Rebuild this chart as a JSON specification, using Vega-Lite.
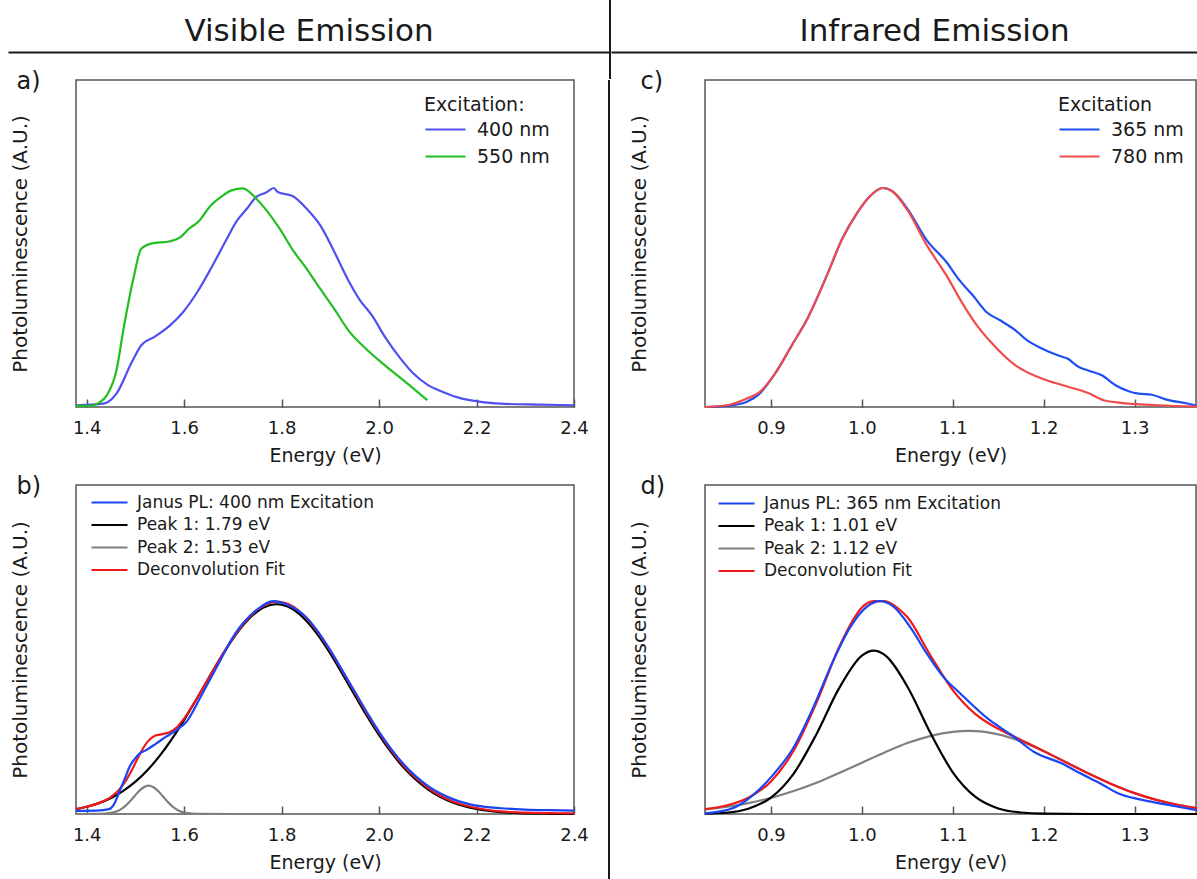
{
 "$schema": "https://vega.github.io/schema/vega-lite/v6.json",
 "padding": {"left": 8, "top": 0, "right": 0, "bottom": 0},
 "background": "white",
 "config": {
  "font": "DejaVu Sans",
  "view": {"stroke": "#555555", "strokeWidth": 1.5},
  "axis": {"grid": false, "labelColor": "#1a1a1a", "titleColor": "#1a1a1a", "titleFontWeight": "normal", "labelFont": "DejaVu Sans", "titleFont": "DejaVu Sans"},
  "legend": {"labelColor": "#1a1a1a", "titleColor": "#1a1a1a", "titleFontWeight": "normal", "labelFont": "DejaVu Sans", "titleFont": "DejaVu Sans", "padding": 0, "labelLimit": 400},
  "line": {"interpolate": "monotone", "strokeWidth": 2.2}
 },
 "datasets": {
  "a": [
   {"E":1.378,"PL":0.008,"s":"400 nm"},{"E":1.434,"PL":0.015,"s":"400 nm"},{"E":1.461,"PL":0.061,"s":"400 nm"},{"E":1.4926,"PL":0.205,"s":"400 nm"},{"E":1.512,"PL":0.282,"s":"400 nm"},{"E":1.539,"PL":0.32,"s":"400 nm"},{"E":1.571,"PL":0.373,"s":"400 nm"},{"E":1.598,"PL":0.434,"s":"400 nm"},{"E":1.627,"PL":0.525,"s":"400 nm"},{"E":1.6585,"PL":0.647,"s":"400 nm"},{"E":1.686,"PL":0.761,"s":"400 nm"},{"E":1.709,"PL":0.853,"s":"400 nm"},{"E":1.729,"PL":0.906,"s":"400 nm"},{"E":1.748,"PL":0.959,"s":"400 nm"},{"E":1.768,"PL":0.979,"s":"400 nm"},{"E":1.784,"PL":1.0,"s":"400 nm"},{"E":1.792,"PL":0.982,"s":"400 nm"},{"E":1.8235,"PL":0.962,"s":"400 nm"},{"E":1.851,"PL":0.906,"s":"400 nm"},{"E":1.879,"PL":0.83,"s":"400 nm"},{"E":1.91,"PL":0.7,"s":"400 nm"},{"E":1.937,"PL":0.578,"s":"400 nm"},{"E":1.961,"PL":0.487,"s":"400 nm"},{"E":1.985,"PL":0.419,"s":"400 nm"},{"E":2.012,"PL":0.32,"s":"400 nm"},{"E":2.044,"PL":0.221,"s":"400 nm"},{"E":2.071,"PL":0.152,"s":"400 nm"},{"E":2.099,"PL":0.102,"s":"400 nm"},{"E":2.131,"PL":0.068,"s":"400 nm"},{"E":2.17,"PL":0.038,"s":"400 nm"},{"E":2.202,"PL":0.026,"s":"400 nm"},{"E":2.249,"PL":0.015,"s":"400 nm"},{"E":2.328,"PL":0.011,"s":"400 nm"},{"E":2.4,"PL":0.008,"s":"400 nm"},
   {"E":1.378,"PL":0.005,"s":"550 nm"},{"E":1.4057,"PL":0.005,"s":"550 nm"},{"E":1.4254,"PL":0.02,"s":"550 nm"},{"E":1.4412,"PL":0.053,"s":"550 nm"},{"E":1.461,"PL":0.167,"s":"550 nm"},{"E":1.4768,"PL":0.373,"s":"550 nm"},{"E":1.4965,"PL":0.594,"s":"550 nm"},{"E":1.512,"PL":0.723,"s":"550 nm"},{"E":1.532,"PL":0.746,"s":"550 nm"},{"E":1.571,"PL":0.757,"s":"550 nm"},{"E":1.59,"PL":0.772,"s":"550 nm"},{"E":1.61,"PL":0.814,"s":"550 nm"},{"E":1.63,"PL":0.848,"s":"550 nm"},{"E":1.6536,"PL":0.918,"s":"550 nm"},{"E":1.677,"PL":0.962,"s":"550 nm"},{"E":1.697,"PL":0.989,"s":"550 nm"},{"E":1.7207,"PL":0.998,"s":"550 nm"},{"E":1.748,"PL":0.951,"s":"550 nm"},{"E":1.796,"PL":0.814,"s":"550 nm"},{"E":1.8235,"PL":0.715,"s":"550 nm"},{"E":1.851,"PL":0.632,"s":"550 nm"},{"E":1.879,"PL":0.54,"s":"550 nm"},{"E":1.91,"PL":0.441,"s":"550 nm"},{"E":1.937,"PL":0.35,"s":"550 nm"},{"E":1.973,"PL":0.266,"s":"550 nm"},{"E":2.012,"PL":0.19,"s":"550 nm"},{"E":2.059,"PL":0.106,"s":"550 nm"},{"E":2.099,"PL":0.031,"s":"550 nm"}
  ],
  "b": [
   {"E":1.378,"PL":0,"s":"Peak 2: 1.53 eV"},{"E":1.42,"PL":0.0003,"s":"Peak 2: 1.53 eV"},{"E":1.437,"PL":0.0015,"s":"Peak 2: 1.53 eV"},{"E":1.447,"PL":0.004,"s":"Peak 2: 1.53 eV"},{"E":1.457,"PL":0.009,"s":"Peak 2: 1.53 eV"},{"E":1.467,"PL":0.018,"s":"Peak 2: 1.53 eV"},{"E":1.477,"PL":0.033,"s":"Peak 2: 1.53 eV"},{"E":1.487,"PL":0.055,"s":"Peak 2: 1.53 eV"},{"E":1.497,"PL":0.081,"s":"Peak 2: 1.53 eV"},{"E":1.507,"PL":0.107,"s":"Peak 2: 1.53 eV"},{"E":1.517,"PL":0.126,"s":"Peak 2: 1.53 eV"},{"E":1.527,"PL":0.133,"s":"Peak 2: 1.53 eV"},{"E":1.537,"PL":0.126,"s":"Peak 2: 1.53 eV"},{"E":1.547,"PL":0.107,"s":"Peak 2: 1.53 eV"},{"E":1.557,"PL":0.081,"s":"Peak 2: 1.53 eV"},{"E":1.567,"PL":0.055,"s":"Peak 2: 1.53 eV"},{"E":1.577,"PL":0.033,"s":"Peak 2: 1.53 eV"},{"E":1.587,"PL":0.018,"s":"Peak 2: 1.53 eV"},{"E":1.597,"PL":0.009,"s":"Peak 2: 1.53 eV"},{"E":1.607,"PL":0.004,"s":"Peak 2: 1.53 eV"},{"E":1.617,"PL":0.0015,"s":"Peak 2: 1.53 eV"},{"E":1.637,"PL":0.0003,"s":"Peak 2: 1.53 eV"},{"E":1.7,"PL":0,"s":"Peak 2: 1.53 eV"},{"E":1.75,"PL":0,"s":"Peak 2: 1.53 eV"},
   {"E":1.378,"PL":0.023,"s":"Peak 1: 1.79 eV"},{"E":1.4,"PL":0.034,"s":"Peak 1: 1.79 eV"},{"E":1.425,"PL":0.051,"s":"Peak 1: 1.79 eV"},{"E":1.45,"PL":0.075,"s":"Peak 1: 1.79 eV"},{"E":1.475,"PL":0.109,"s":"Peak 1: 1.79 eV"},{"E":1.5,"PL":0.152,"s":"Peak 1: 1.79 eV"},{"E":1.525,"PL":0.207,"s":"Peak 1: 1.79 eV"},{"E":1.55,"PL":0.274,"s":"Peak 1: 1.79 eV"},{"E":1.575,"PL":0.353,"s":"Peak 1: 1.79 eV"},{"E":1.6,"PL":0.442,"s":"Peak 1: 1.79 eV"},{"E":1.625,"PL":0.538,"s":"Peak 1: 1.79 eV"},{"E":1.65,"PL":0.637,"s":"Peak 1: 1.79 eV"},{"E":1.675,"PL":0.734,"s":"Peak 1: 1.79 eV"},{"E":1.7,"PL":0.823,"s":"Peak 1: 1.79 eV"},{"E":1.725,"PL":0.897,"s":"Peak 1: 1.79 eV"},{"E":1.75,"PL":0.951,"s":"Peak 1: 1.79 eV"},{"E":1.775,"PL":0.98,"s":"Peak 1: 1.79 eV"},{"E":1.79,"PL":0.985,"s":"Peak 1: 1.79 eV"},{"E":1.8,"PL":0.983,"s":"Peak 1: 1.79 eV"},{"E":1.825,"PL":0.959,"s":"Peak 1: 1.79 eV"},{"E":1.85,"PL":0.909,"s":"Peak 1: 1.79 eV"},{"E":1.875,"PL":0.839,"s":"Peak 1: 1.79 eV"},{"E":1.9,"PL":0.753,"s":"Peak 1: 1.79 eV"},{"E":1.925,"PL":0.657,"s":"Peak 1: 1.79 eV"},{"E":1.95,"PL":0.558,"s":"Peak 1: 1.79 eV"},{"E":1.975,"PL":0.46,"s":"Peak 1: 1.79 eV"},{"E":2.0,"PL":0.37,"s":"Peak 1: 1.79 eV"},{"E":2.025,"PL":0.289,"s":"Peak 1: 1.79 eV"},{"E":2.05,"PL":0.219,"s":"Peak 1: 1.79 eV"},{"E":2.075,"PL":0.162,"s":"Peak 1: 1.79 eV"},{"E":2.1,"PL":0.116,"s":"Peak 1: 1.79 eV"},{"E":2.125,"PL":0.081,"s":"Peak 1: 1.79 eV"},{"E":2.15,"PL":0.055,"s":"Peak 1: 1.79 eV"},{"E":2.175,"PL":0.037,"s":"Peak 1: 1.79 eV"},{"E":2.2,"PL":0.024,"s":"Peak 1: 1.79 eV"},{"E":2.25,"PL":0.009,"s":"Peak 1: 1.79 eV"},{"E":2.3,"PL":0.003,"s":"Peak 1: 1.79 eV"},{"E":2.35,"PL":0.001,"s":"Peak 1: 1.79 eV"},{"E":2.4,"PL":0,"s":"Peak 1: 1.79 eV"},
   {"E":1.378,"PL":0.023,"s":"Deconvolution Fit"},{"E":1.4,"PL":0.034,"s":"Deconvolution Fit"},{"E":1.425,"PL":0.051,"s":"Deconvolution Fit"},{"E":1.45,"PL":0.08,"s":"Deconvolution Fit"},{"E":1.465,"PL":0.11,"s":"Deconvolution Fit"},{"E":1.48,"PL":0.155,"s":"Deconvolution Fit"},{"E":1.495,"PL":0.217,"s":"Deconvolution Fit"},{"E":1.51,"PL":0.286,"s":"Deconvolution Fit"},{"E":1.525,"PL":0.34,"s":"Deconvolution Fit"},{"E":1.54,"PL":0.367,"s":"Deconvolution Fit"},{"E":1.555,"PL":0.375,"s":"Deconvolution Fit"},{"E":1.57,"PL":0.384,"s":"Deconvolution Fit"},{"E":1.585,"PL":0.407,"s":"Deconvolution Fit"},{"E":1.6,"PL":0.449,"s":"Deconvolution Fit"},{"E":1.625,"PL":0.539,"s":"Deconvolution Fit"},{"E":1.65,"PL":0.637,"s":"Deconvolution Fit"},{"E":1.675,"PL":0.735,"s":"Deconvolution Fit"},{"E":1.7,"PL":0.826,"s":"Deconvolution Fit"},{"E":1.725,"PL":0.902,"s":"Deconvolution Fit"},{"E":1.75,"PL":0.958,"s":"Deconvolution Fit"},{"E":1.775,"PL":0.99,"s":"Deconvolution Fit"},{"E":1.79,"PL":0.997,"s":"Deconvolution Fit"},{"E":1.8,"PL":0.995,"s":"Deconvolution Fit"},{"E":1.825,"PL":0.972,"s":"Deconvolution Fit"},{"E":1.85,"PL":0.922,"s":"Deconvolution Fit"},{"E":1.875,"PL":0.852,"s":"Deconvolution Fit"},{"E":1.9,"PL":0.766,"s":"Deconvolution Fit"},{"E":1.925,"PL":0.67,"s":"Deconvolution Fit"},{"E":1.95,"PL":0.571,"s":"Deconvolution Fit"},{"E":1.975,"PL":0.472,"s":"Deconvolution Fit"},{"E":2.0,"PL":0.381,"s":"Deconvolution Fit"},{"E":2.025,"PL":0.299,"s":"Deconvolution Fit"},{"E":2.05,"PL":0.228,"s":"Deconvolution Fit"},{"E":2.075,"PL":0.17,"s":"Deconvolution Fit"},{"E":2.1,"PL":0.123,"s":"Deconvolution Fit"},{"E":2.125,"PL":0.087,"s":"Deconvolution Fit"},{"E":2.15,"PL":0.06,"s":"Deconvolution Fit"},{"E":2.175,"PL":0.041,"s":"Deconvolution Fit"},{"E":2.2,"PL":0.028,"s":"Deconvolution Fit"},{"E":2.25,"PL":0.012,"s":"Deconvolution Fit"},{"E":2.3,"PL":0.006,"s":"Deconvolution Fit"},{"E":2.35,"PL":0.004,"s":"Deconvolution Fit"},{"E":2.4,"PL":0.003,"s":"Deconvolution Fit"},
   {"E":1.378,"PL":0.015,"s":"Janus PL: 400 nm Excitation"},{"E":1.42,"PL":0.016,"s":"Janus PL: 400 nm Excitation"},{"E":1.446,"PL":0.023,"s":"Janus PL: 400 nm Excitation"},{"E":1.457,"PL":0.05,"s":"Janus PL: 400 nm Excitation"},{"E":1.467,"PL":0.105,"s":"Janus PL: 400 nm Excitation"},{"E":1.478,"PL":0.165,"s":"Janus PL: 400 nm Excitation"},{"E":1.488,"PL":0.222,"s":"Janus PL: 400 nm Excitation"},{"E":1.499,"PL":0.26,"s":"Janus PL: 400 nm Excitation"},{"E":1.509,"PL":0.285,"s":"Janus PL: 400 nm Excitation"},{"E":1.522,"PL":0.3,"s":"Janus PL: 400 nm Excitation"},{"E":1.543,"PL":0.332,"s":"Janus PL: 400 nm Excitation"},{"E":1.563,"PL":0.363,"s":"Janus PL: 400 nm Excitation"},{"E":1.584,"PL":0.394,"s":"Janus PL: 400 nm Excitation"},{"E":1.6047,"PL":0.433,"s":"Janus PL: 400 nm Excitation"},{"E":1.634,"PL":0.551,"s":"Janus PL: 400 nm Excitation"},{"E":1.6655,"PL":0.684,"s":"Janus PL: 400 nm Excitation"},{"E":1.705,"PL":0.848,"s":"Janus PL: 400 nm Excitation"},{"E":1.7444,"PL":0.95,"s":"Janus PL: 400 nm Excitation"},{"E":1.784,"PL":1.0,"s":"Janus PL: 400 nm Excitation"},{"E":1.808,"PL":0.986,"s":"Janus PL: 400 nm Excitation"},{"E":1.8314,"PL":0.958,"s":"Janus PL: 400 nm Excitation"},{"E":1.85,"PL":0.925,"s":"Janus PL: 400 nm Excitation"},{"E":1.875,"PL":0.855,"s":"Janus PL: 400 nm Excitation"},{"E":1.9,"PL":0.768,"s":"Janus PL: 400 nm Excitation"},{"E":1.925,"PL":0.672,"s":"Janus PL: 400 nm Excitation"},{"E":1.95,"PL":0.575,"s":"Janus PL: 400 nm Excitation"},{"E":1.975,"PL":0.478,"s":"Janus PL: 400 nm Excitation"},{"E":2.0,"PL":0.386,"s":"Janus PL: 400 nm Excitation"},{"E":2.025,"PL":0.305,"s":"Janus PL: 400 nm Excitation"},{"E":2.05,"PL":0.235,"s":"Janus PL: 400 nm Excitation"},{"E":2.075,"PL":0.178,"s":"Janus PL: 400 nm Excitation"},{"E":2.1,"PL":0.132,"s":"Janus PL: 400 nm Excitation"},{"E":2.125,"PL":0.097,"s":"Janus PL: 400 nm Excitation"},{"E":2.15,"PL":0.071,"s":"Janus PL: 400 nm Excitation"},{"E":2.175,"PL":0.052,"s":"Janus PL: 400 nm Excitation"},{"E":2.2,"PL":0.039,"s":"Janus PL: 400 nm Excitation"},{"E":2.25,"PL":0.027,"s":"Janus PL: 400 nm Excitation"},{"E":2.3,"PL":0.021,"s":"Janus PL: 400 nm Excitation"},{"E":2.35,"PL":0.018,"s":"Janus PL: 400 nm Excitation"},{"E":2.4,"PL":0.016,"s":"Janus PL: 400 nm Excitation"}
  ],
  "c": [
   {"E":0.8274,"PL":0.0,"s":"365 nm"},{"E":0.8515,"PL":0.005,"s":"365 nm"},{"E":0.873,"PL":0.023,"s":"365 nm"},{"E":0.8875,"PL":0.061,"s":"365 nm"},{"E":0.9044,"PL":0.152,"s":"365 nm"},{"E":0.923,"PL":0.282,"s":"365 nm"},{"E":0.94,"PL":0.403,"s":"365 nm"},{"E":0.9615,"PL":0.601,"s":"365 nm"},{"E":0.9785,"PL":0.769,"s":"365 nm"},{"E":0.9954,"PL":0.89,"s":"365 nm"},{"E":1.008,"PL":0.959,"s":"365 nm"},{"E":1.023,"PL":1.0,"s":"365 nm"},{"E":1.0335,"PL":0.985,"s":"365 nm"},{"E":1.05,"PL":0.906,"s":"365 nm"},{"E":1.0715,"PL":0.761,"s":"365 nm"},{"E":1.093,"PL":0.662,"s":"365 nm"},{"E":1.1075,"PL":0.578,"s":"365 nm"},{"E":1.122,"PL":0.51,"s":"365 nm"},{"E":1.137,"PL":0.434,"s":"365 nm"},{"E":1.152,"PL":0.396,"s":"365 nm"},{"E":1.169,"PL":0.35,"s":"365 nm"},{"E":1.1816,"PL":0.305,"s":"365 nm"},{"E":1.1985,"PL":0.266,"s":"365 nm"},{"E":1.2155,"PL":0.236,"s":"365 nm"},{"E":1.226,"PL":0.221,"s":"365 nm"},{"E":1.2387,"PL":0.183,"s":"365 nm"},{"E":1.249,"PL":0.167,"s":"365 nm"},{"E":1.264,"PL":0.145,"s":"365 nm"},{"E":1.279,"PL":0.099,"s":"365 nm"},{"E":1.2936,"PL":0.072,"s":"365 nm"},{"E":1.3043,"PL":0.061,"s":"365 nm"},{"E":1.319,"PL":0.056,"s":"365 nm"},{"E":1.334,"PL":0.035,"s":"365 nm"},{"E":1.3593,"PL":0.015,"s":"365 nm"},{"E":1.3687,"PL":0.005,"s":"365 nm"},
   {"E":0.8274,"PL":0.0,"s":"780 nm"},{"E":0.8515,"PL":0.008,"s":"780 nm"},{"E":0.873,"PL":0.038,"s":"780 nm"},{"E":0.8875,"PL":0.068,"s":"780 nm"},{"E":0.9044,"PL":0.152,"s":"780 nm"},{"E":0.923,"PL":0.282,"s":"780 nm"},{"E":0.94,"PL":0.403,"s":"780 nm"},{"E":0.9615,"PL":0.601,"s":"780 nm"},{"E":0.9785,"PL":0.769,"s":"780 nm"},{"E":0.9954,"PL":0.89,"s":"780 nm"},{"E":1.008,"PL":0.959,"s":"780 nm"},{"E":1.023,"PL":1.0,"s":"780 nm"},{"E":1.0335,"PL":0.985,"s":"780 nm"},{"E":1.05,"PL":0.9,"s":"780 nm"},{"E":1.0715,"PL":0.738,"s":"780 nm"},{"E":1.093,"PL":0.601,"s":"780 nm"},{"E":1.1098,"PL":0.479,"s":"780 nm"},{"E":1.1265,"PL":0.373,"s":"780 nm"},{"E":1.1436,"PL":0.289,"s":"780 nm"},{"E":1.169,"PL":0.19,"s":"780 nm"},{"E":1.1985,"PL":0.129,"s":"780 nm"},{"E":1.224,"PL":0.096,"s":"780 nm"},{"E":1.249,"PL":0.064,"s":"780 nm"},{"E":1.266,"PL":0.031,"s":"780 nm"},{"E":1.283,"PL":0.02,"s":"780 nm"},{"E":1.326,"PL":0.008,"s":"780 nm"},{"E":1.3687,"PL":0.002,"s":"780 nm"}
  ],
  "d": [
   {"E":0.8274,"PL":0.021,"s":"Peak 2: 1.12 eV"},{"E":0.85,"PL":0.033,"s":"Peak 2: 1.12 eV"},{"E":0.875,"PL":0.051,"s":"Peak 2: 1.12 eV"},{"E":0.9,"PL":0.076,"s":"Peak 2: 1.12 eV"},{"E":0.925,"PL":0.108,"s":"Peak 2: 1.12 eV"},{"E":0.95,"PL":0.147,"s":"Peak 2: 1.12 eV"},{"E":0.975,"PL":0.193,"s":"Peak 2: 1.12 eV"},{"E":1.0,"PL":0.241,"s":"Peak 2: 1.12 eV"},{"E":1.025,"PL":0.289,"s":"Peak 2: 1.12 eV"},{"E":1.05,"PL":0.333,"s":"Peak 2: 1.12 eV"},{"E":1.075,"PL":0.366,"s":"Peak 2: 1.12 eV"},{"E":1.1,"PL":0.386,"s":"Peak 2: 1.12 eV"},{"E":1.118,"PL":0.39,"s":"Peak 2: 1.12 eV"},{"E":1.15,"PL":0.374,"s":"Peak 2: 1.12 eV"},{"E":1.175,"PL":0.341,"s":"Peak 2: 1.12 eV"},{"E":1.2,"PL":0.295,"s":"Peak 2: 1.12 eV"},{"E":1.225,"PL":0.242,"s":"Peak 2: 1.12 eV"},{"E":1.25,"PL":0.189,"s":"Peak 2: 1.12 eV"},{"E":1.275,"PL":0.14,"s":"Peak 2: 1.12 eV"},{"E":1.3,"PL":0.098,"s":"Peak 2: 1.12 eV"},{"E":1.325,"PL":0.065,"s":"Peak 2: 1.12 eV"},{"E":1.35,"PL":0.041,"s":"Peak 2: 1.12 eV"},{"E":1.3687,"PL":0.028,"s":"Peak 2: 1.12 eV"},
   {"E":0.8274,"PL":0.002,"s":"Peak 1: 1.01 eV"},{"E":0.85,"PL":0.006,"s":"Peak 1: 1.01 eV"},{"E":0.875,"PL":0.025,"s":"Peak 1: 1.01 eV"},{"E":0.9,"PL":0.077,"s":"Peak 1: 1.01 eV"},{"E":0.925,"PL":0.19,"s":"Peak 1: 1.01 eV"},{"E":0.95,"PL":0.375,"s":"Peak 1: 1.01 eV"},{"E":0.975,"PL":0.591,"s":"Peak 1: 1.01 eV"},{"E":1.0,"PL":0.744,"s":"Peak 1: 1.01 eV"},{"E":1.013,"PL":0.767,"s":"Peak 1: 1.01 eV"},{"E":1.025,"PL":0.747,"s":"Peak 1: 1.01 eV"},{"E":1.05,"PL":0.599,"s":"Peak 1: 1.01 eV"},{"E":1.075,"PL":0.384,"s":"Peak 1: 1.01 eV"},{"E":1.1,"PL":0.196,"s":"Peak 1: 1.01 eV"},{"E":1.125,"PL":0.08,"s":"Peak 1: 1.01 eV"},{"E":1.15,"PL":0.026,"s":"Peak 1: 1.01 eV"},{"E":1.175,"PL":0.007,"s":"Peak 1: 1.01 eV"},{"E":1.2,"PL":0.0014,"s":"Peak 1: 1.01 eV"},{"E":1.25,"PL":0,"s":"Peak 1: 1.01 eV"},{"E":1.3687,"PL":0,"s":"Peak 1: 1.01 eV"},
   {"E":0.8274,"PL":0.023,"s":"Deconvolution Fit"},{"E":0.85,"PL":0.039,"s":"Deconvolution Fit"},{"E":0.875,"PL":0.076,"s":"Deconvolution Fit"},{"E":0.9,"PL":0.153,"s":"Deconvolution Fit"},{"E":0.925,"PL":0.298,"s":"Deconvolution Fit"},{"E":0.95,"PL":0.522,"s":"Deconvolution Fit"},{"E":0.975,"PL":0.784,"s":"Deconvolution Fit"},{"E":0.99,"PL":0.91,"s":"Deconvolution Fit"},{"E":1.0,"PL":0.97,"s":"Deconvolution Fit"},{"E":1.013,"PL":1.0,"s":"Deconvolution Fit"},{"E":1.025,"PL":1.0,"s":"Deconvolution Fit"},{"E":1.04,"PL":0.965,"s":"Deconvolution Fit"},{"E":1.05,"PL":0.925,"s":"Deconvolution Fit"},{"E":1.075,"PL":0.748,"s":"Deconvolution Fit"},{"E":1.1,"PL":0.582,"s":"Deconvolution Fit"},{"E":1.125,"PL":0.469,"s":"Deconvolution Fit"},{"E":1.15,"PL":0.4,"s":"Deconvolution Fit"},{"E":1.175,"PL":0.348,"s":"Deconvolution Fit"},{"E":1.2,"PL":0.296,"s":"Deconvolution Fit"},{"E":1.225,"PL":0.242,"s":"Deconvolution Fit"},{"E":1.25,"PL":0.189,"s":"Deconvolution Fit"},{"E":1.275,"PL":0.14,"s":"Deconvolution Fit"},{"E":1.3,"PL":0.098,"s":"Deconvolution Fit"},{"E":1.325,"PL":0.065,"s":"Deconvolution Fit"},{"E":1.35,"PL":0.041,"s":"Deconvolution Fit"},{"E":1.3687,"PL":0.028,"s":"Deconvolution Fit"},
   {"E":0.8274,"PL":0.003,"s":"Janus PL: 365 nm Excitation"},{"E":0.8585,"PL":0.028,"s":"Janus PL: 365 nm Excitation"},{"E":0.8805,"PL":0.09,"s":"Janus PL: 365 nm Excitation"},{"E":0.9025,"PL":0.185,"s":"Janus PL: 365 nm Excitation"},{"E":0.9245,"PL":0.31,"s":"Janus PL: 365 nm Excitation"},{"E":0.9465,"PL":0.5,"s":"Janus PL: 365 nm Excitation"},{"E":0.9685,"PL":0.72,"s":"Janus PL: 365 nm Excitation"},{"E":0.9869,"PL":0.875,"s":"Janus PL: 365 nm Excitation"},{"E":1.0053,"PL":0.973,"s":"Janus PL: 365 nm Excitation"},{"E":1.02,"PL":1.0,"s":"Janus PL: 365 nm Excitation"},{"E":1.0345,"PL":0.975,"s":"Janus PL: 365 nm Excitation"},{"E":1.053,"PL":0.879,"s":"Janus PL: 365 nm Excitation"},{"E":1.0713,"PL":0.754,"s":"Janus PL: 365 nm Excitation"},{"E":1.0896,"PL":0.644,"s":"Janus PL: 365 nm Excitation"},{"E":1.108,"PL":0.567,"s":"Janus PL: 365 nm Excitation"},{"E":1.1393,"PL":0.445,"s":"Janus PL: 365 nm Excitation"},{"E":1.1647,"PL":0.371,"s":"Janus PL: 365 nm Excitation"},{"E":1.19,"PL":0.29,"s":"Janus PL: 365 nm Excitation"},{"E":1.2196,"PL":0.238,"s":"Janus PL: 365 nm Excitation"},{"E":1.2408,"PL":0.19,"s":"Janus PL: 365 nm Excitation"},{"E":1.262,"PL":0.144,"s":"Janus PL: 365 nm Excitation"},{"E":1.283,"PL":0.095,"s":"Janus PL: 365 nm Excitation"},{"E":1.3043,"PL":0.07,"s":"Janus PL: 365 nm Excitation"},{"E":1.334,"PL":0.045,"s":"Janus PL: 365 nm Excitation"},{"E":1.3635,"PL":0.022,"s":"Janus PL: 365 nm Excitation"},{"E":1.3687,"PL":0.018,"s":"Janus PL: 365 nm Excitation"}
  ],
  "blank": [{"v": 0}]
 },
 "columns": 1,
 "align": "none",
 "spacing": -11,
 "resolve": {"scale": {"color": "independent", "x": "independent", "y": "independent"}, "legend": {"color": "independent"}},
 "concat": [
  {
   "align": "none",
   "spacing": 0,
   "resolve": {"scale": {"x": "independent"}},
   "concat": [
    {
     "width": 601, "height": 68,
     "data": {"name": "blank"},
     "view": {"stroke": null},
     "mark": {"type": "point", "size": 0, "opacity": 0},
     "encoding": {"x": {"field": "v", "type": "quantitative", "scale": {"domain": [0, 1]}, "axis": {"title": "Visible Emission", "titleX": 300.5, "titleY": -12, "titleAlign": "center", "titleBaseline": "alphabetic", "titleAngle": 0, "titleFontSize": 31, "labels": false, "ticks": false, "grid": false, "domain": true, "domainColor": "#1a1a1a", "domainWidth": 2, "offset": -16}}}
    },
    {
     "width": 2, "height": 79,
     "data": {"name": "blank"},
     "view": {"stroke": null, "fill": "#1a1a1a"},
     "mark": {"type": "point", "size": 0, "opacity": 0}
    },
    {
     "width": 586, "height": 68,
     "data": {"name": "blank"},
     "view": {"stroke": null},
     "mark": {"type": "point", "size": 0, "opacity": 0},
     "encoding": {"x": {"field": "v", "type": "quantitative", "scale": {"domain": [0, 1]}, "axis": {"title": "Infrared Emission", "titleX": 323, "titleY": -12, "titleAlign": "center", "titleBaseline": "alphabetic", "titleAngle": 0, "titleFontSize": 31, "labels": false, "ticks": false, "grid": false, "domain": true, "domainColor": "#1a1a1a", "domainWidth": 2, "offset": -16}}}
    }
   ]
  },
  {
   "align": "none",
   "spacing": 18,
   "resolve": {"scale": {"color": "independent", "x": "independent", "y": "independent"}, "legend": {"color": "independent"}},
   "concat": [
    {
     "align": "none",
     "spacing": 0,
     "resolve": {"scale": {"color": "independent", "x": "independent", "y": "independent"}, "legend": {"color": "independent"}},
     "concat": [
      {
       "width": 1, "height": 1,
       "data": {"name": "blank"},
       "view": {"stroke": null},
       "mark": {"type": "point", "size": 0, "opacity": 0}
      },
      {
       "columns": 1,
       "align": "none",
       "spacing": 7,
       "resolve": {"scale": {"color": "independent", "x": "independent", "y": "independent"}, "legend": {"color": "independent"}},
       "concat": [
        {
         "width": 498, "height": 327,
         "data": {"name": "a"},
         "resolve": {"axis": {"x": "independent"}},
         "layer": [
          {
           "mark": {"type": "line"},
           "encoding": {
            "x": {"field": "E", "type": "quantitative", "scale": {"domain": [1.378, 2.4], "nice": false, "zero": false},
                  "axis": {"values": [1.4, 1.6, 1.8, 2.0, 2.2, 2.4], "format": ".1f", "title": "Energy (eV)", "labelFontSize": 18, "titleFontSize": 19, "tickSize": -8, "tickWidth": 1.5, "tickColor": "#555555", "domain": false, "labelPadding": 20, "titlePadding": 9, "labelFlush": false, "labelOverlap": false}},
            "y": {"field": "PL", "type": "quantitative", "scale": {"domain": [0, 1.493], "nice": false, "zero": false},
                  "axis": {"title": "Photoluminescence (A.U.)", "labels": false, "ticks": false, "domain": false, "titleFontSize": 20, "titlePadding": 46}},
            "color": {"field": "s", "type": "nominal", "scale": {"domain": ["400 nm", "550 nm"], "range": ["#5050F0", "#22BF22"]},
                      "legend": {"title": "Excitation:", "orient": "none", "legendX": 348, "legendY": 16, "symbolType": "M-1,0H3", "symbolSize": 400, "symbolStrokeWidth": 2.5, "labelFontSize": 19, "titleFontSize": 19, "labelOffset": 30, "rowPadding": 5, "titlePadding": 3}}
           }
          },
          {
           "mark": {"type": "point", "size": 0, "opacity": 0},
           "encoding": {"x": {"field": "E", "type": "quantitative", "axis": {"orient": "top", "title": "a)", "titleX": -60, "titleY": 8, "titleAngle": 0, "titleAlign": "left", "titleBaseline": "alphabetic", "titleFontSize": 24, "labels": false, "ticks": false, "domain": false, "grid": false}}}
          }
         ]
        },
        {
         "width": 498, "height": 329,
         "data": {"name": "b"},
         "resolve": {"axis": {"x": "independent"}},
         "layer": [
          {
           "mark": {"type": "line"},
           "encoding": {
            "x": {"field": "E", "type": "quantitative", "scale": {"domain": [1.378, 2.4], "nice": false, "zero": false},
                  "axis": {"values": [1.4, 1.6, 1.8, 2.0, 2.2, 2.4], "format": ".1f", "title": "Energy (eV)", "labelFontSize": 18, "titleFontSize": 19, "tickSize": -8, "tickWidth": 1.5, "tickColor": "#555555", "domain": false, "labelPadding": 20, "titlePadding": 9, "labelFlush": false, "labelOverlap": false}},
            "y": {"field": "PL", "type": "quantitative", "scale": {"domain": [0, 1.545], "nice": false, "zero": false},
                  "axis": {"title": "Photoluminescence (A.U.)", "labels": false, "ticks": false, "domain": false, "titleFontSize": 20, "titlePadding": 46}},
            "color": {"field": "s", "type": "nominal", "scale": {"domain": ["Janus PL: 400 nm Excitation", "Peak 1: 1.79 eV", "Peak 2: 1.53 eV", "Deconvolution Fit"], "range": ["#1A45F5", "#000000", "#7F7F7F", "#F01818"]},
                      "legend": {"title": null, "orient": "none", "legendX": 14, "legendY": 7, "symbolType": "M-1,0H3", "symbolSize": 324, "symbolStrokeWidth": 3, "labelFontSize": 17, "labelOffset": 26, "rowPadding": 3.5}}
           }
          },
          {
           "mark": {"type": "point", "size": 0, "opacity": 0},
           "encoding": {"x": {"field": "E", "type": "quantitative", "axis": {"orient": "top", "title": "b)", "titleX": -60, "titleY": 8, "titleAngle": 0, "titleAlign": "left", "titleBaseline": "alphabetic", "titleFontSize": 24, "labels": false, "ticks": false, "domain": false, "grid": false}}}
          }
         ]
        }
       ]
      }
     ]
    },
    {
     "width": 2, "height": 800,
     "data": {"name": "blank"},
     "view": {"stroke": null, "fill": "#1a1a1a"},
     "mark": {"type": "point", "size": 0, "opacity": 0}
    },
    {
     "columns": 1,
     "align": "none",
     "spacing": 7,
     "resolve": {"scale": {"color": "independent", "x": "independent", "y": "independent"}, "legend": {"color": "independent"}},
     "concat": [
      {
       "width": 491, "height": 327,
       "data": {"name": "c"},
       "resolve": {"axis": {"x": "independent"}},
       "layer": [
        {
         "mark": {"type": "line"},
         "encoding": {
          "x": {"field": "E", "type": "quantitative", "scale": {"domain": [0.8274, 1.3676], "nice": false, "zero": false},
                "axis": {"values": [0.9, 1.0, 1.1, 1.2, 1.3], "format": ".1f", "title": "Energy (eV)", "labelFontSize": 18, "titleFontSize": 19, "tickSize": -8, "tickWidth": 1.5, "tickColor": "#555555", "domain": false, "labelPadding": 20, "titlePadding": 9, "labelFlush": false, "labelOverlap": false}},
          "y": {"field": "PL", "type": "quantitative", "scale": {"domain": [0, 1.493], "nice": false, "zero": false},
                "axis": {"title": "Photoluminescence (A.U.)", "labels": false, "ticks": false, "domain": false, "titleFontSize": 20, "titlePadding": 56}},
          "color": {"field": "s", "type": "nominal", "scale": {"domain": ["365 nm", "780 nm"], "range": ["#1F4FF2", "#F04C4C"]},
                    "legend": {"title": "Excitation", "orient": "none", "legendX": 353, "legendY": 16, "symbolType": "M-1,0H3", "symbolSize": 400, "symbolStrokeWidth": 2.5, "labelFontSize": 19, "titleFontSize": 19, "labelOffset": 30, "rowPadding": 5, "titlePadding": 3}}
         }
        },
        {
         "mark": {"type": "point", "size": 0, "opacity": 0},
         "encoding": {"x": {"field": "E", "type": "quantitative", "axis": {"orient": "top", "title": "c)", "titleX": -65, "titleY": 8, "titleAngle": 0, "titleAlign": "left", "titleBaseline": "alphabetic", "titleFontSize": 24, "labels": false, "ticks": false, "domain": false, "grid": false}}}
        }
       ]
      },
      {
       "width": 491, "height": 329,
       "data": {"name": "d"},
       "resolve": {"axis": {"x": "independent"}},
       "layer": [
        {
         "mark": {"type": "line"},
         "encoding": {
          "x": {"field": "E", "type": "quantitative", "scale": {"domain": [0.8274, 1.3676], "nice": false, "zero": false},
                "axis": {"values": [0.9, 1.0, 1.1, 1.2, 1.3], "format": ".1f", "title": "Energy (eV)", "labelFontSize": 18, "titleFontSize": 19, "tickSize": -8, "tickWidth": 1.5, "tickColor": "#555555", "domain": false, "labelPadding": 20, "titlePadding": 9, "labelFlush": false, "labelOverlap": false}},
          "y": {"field": "PL", "type": "quantitative", "scale": {"domain": [0, 1.545], "nice": false, "zero": false},
                "axis": {"title": "Photoluminescence (A.U.)", "labels": false, "ticks": false, "domain": false, "titleFontSize": 20, "titlePadding": 56}},
          "color": {"field": "s", "type": "nominal", "scale": {"domain": ["Janus PL: 365 nm Excitation", "Peak 1: 1.01 eV", "Peak 2: 1.12 eV", "Deconvolution Fit"], "range": ["#1A45F5", "#000000", "#7F7F7F", "#F01818"]},
                    "legend": {"title": null, "orient": "none", "legendX": 12, "legendY": 8, "symbolType": "M-1,0H3", "symbolSize": 324, "symbolStrokeWidth": 3, "labelFontSize": 17, "labelOffset": 26, "rowPadding": 3.5}}
         }
        },
        {
         "mark": {"type": "point", "size": 0, "opacity": 0},
         "encoding": {"x": {"field": "E", "type": "quantitative", "axis": {"orient": "top", "title": "d)", "titleX": -65, "titleY": 8, "titleAngle": 0, "titleAlign": "left", "titleBaseline": "alphabetic", "titleFontSize": 24, "labels": false, "ticks": false, "domain": false, "grid": false}}}
        }
       ]
      }
     ]
    }
   ]
  }
 ]
}
